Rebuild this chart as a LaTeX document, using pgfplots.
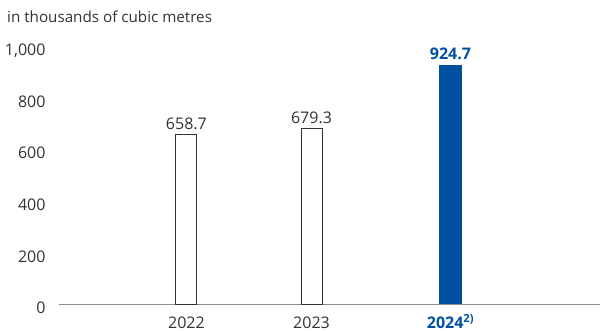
\documentclass[border=0pt]{standalone}
\usepackage{pgfplots}
\pgfplotsset{compat=1.18}
\usepackage{fontspec}
\setmainfont{Open Sans}
\definecolor{barblue}{HTML}{0050A0}
\definecolor{txt}{HTML}{333333}
\definecolor{axgray}{HTML}{8C8C8C}
\begin{document}
\begin{tikzpicture}[font=\fontsize{16}{19}\selectfont, x=1pt, y=1pt]
\useasboundingbox (0,0) rectangle (600,331);
\node[anchor=base west, inner sep=0pt, text=txt, font=\fontsize{15.2}{18}\selectfont] at (7,308.3) {in thousands of cubic metres};
\begin{axis}[
  at={(59.3pt,26.5pt)}, anchor=south west,
  scale only axis, width=540.7pt, height=258.5pt,
  xmin=59.3, xmax=600, ymin=0, ymax=1000,
  clip=false,
  axis x line*=bottom, axis y line*=left,
  y axis line style={draw=none},
  x axis line style={axgray, line width=1.5pt, -},
  major tick length=0pt,
  ytick={0,200,400,600,800,1000},
  xtick={186.4,311.5,450.5},
  xticklabels={2022,2023,{\bfseries\color{barblue}2024\textsuperscript{2)}}},
  /pgf/number format/.cd, 1000 sep={,}, assume math mode=true, /pgfplots/.cd,
  yticklabel style={anchor=base east, inner sep=0pt, xshift=-13.6pt, yshift=-9.5pt, text=txt},
  xticklabel style={anchor=base, inner sep=0pt, yshift=-24.3pt, text=txt},
]
\addplot[ybar, bar width=21pt, bar shift=0pt, draw=txt, fill=white, line width=0.9pt,
  nodes near coords={\pgfmathprintnumber[fixed,fixed zerofill,precision=1,assume math mode=true]{\pgfplotspointmeta}},
  nodes near coords style={anchor=base, inner sep=0pt, yshift=5pt, text=txt}]
  coordinates {(186.4,658.7) (311.5,679.3)};
\addplot[ybar, bar width=23pt, bar shift=0pt, fill=barblue, draw=none,
  nodes near coords={\bfseries\pgfmathprintnumber[fixed,fixed zerofill,precision=1,assume math mode=true]{\pgfplotspointmeta}},
  nodes near coords style={anchor=base, inner sep=0pt, yshift=5.5pt, text=barblue}]
  coordinates {(450.5,924.7)};
\end{axis}
\end{tikzpicture}
\end{document}
